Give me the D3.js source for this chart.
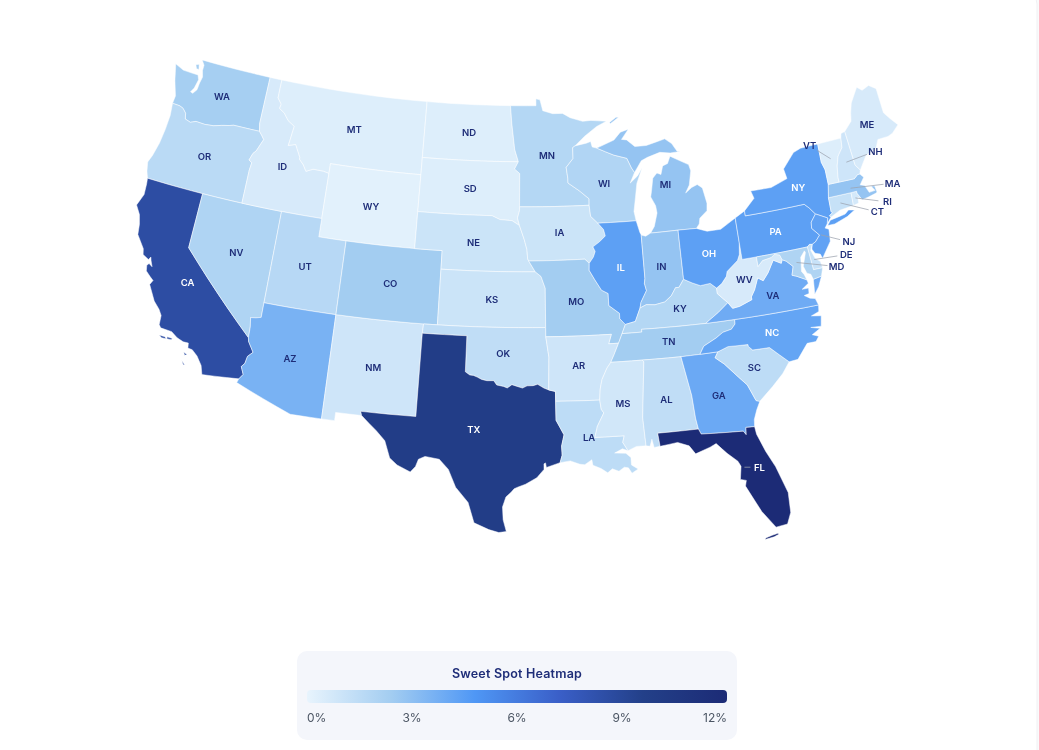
<!DOCTYPE html>
<html>
<head>
<meta charset="utf-8">
<script src="https://cdn.jsdelivr.net/npm/d3@7"></script>
<style>
  html, body { margin: 0; padding: 0; background: #fafafb; overflow: hidden; }
  text { font-family: Inter, "Noto Sans", sans-serif; }
  svg { will-change: opacity; }
</style>
</head>
<body>
<script>
// share of sweet spot per state
var stateCodes  = ['WA','OR','CA','NV','ID','MT','WY','UT','AZ','NM','CO','ND','SD','NE','KS','OK','TX','MN','IA','MO','AR','LA','WI','IL','MI','IN','KY','TN','MS','AL','GA','FL','SC','NC','VA','WV','OH','PA','NY','NJ','DE','MD','CT','RI','MA','VT','NH','ME'];
var stateShares = [2.3,1.6,8.6,2.0,0.6,0.4,0.2,1.7,3.6,0.9,2.4,0.4,0.4,1.0,1.0,1.4,9.9,1.8,1.0,2.4,0.9,1.5,1.9,4.4,2.8,2.8,1.8,2.4,0.8,1.4,4.0,12,1.5,4.2,3.9,0.6,4.4,4.4,4.4,4.3,1.1,2.0,1.2,0.7,2.8,0.4,0.9,0.6];

var legendTitle = 'Sweet Spot Heatmap';
var legendTicks = [0,3,6,9,12];
var colorStops  = [0,2.4,4.8,7.2,9.6,12];
var colorRange  = ['#e8f4fd','#a3cdf1','#4f97f5','#3a5fc8','#234089','#1c2b76'];

// states whose label sits off to the side, with a leader line
var calloutCodes = ['VT','NH','MA','RI','CT','NJ','DE','MD','FL'];
var calloutDx    = [-21,29,42,32,37,28,32,40,15];
var calloutDy    = [-13,-11,-5,4,9,7,-5,4,0];

///////////////////////////////////////////////////////////////////////////////
/////////////////////////      state boundaries      //////////////////////////
///////////////////////////////////////////////////////////////////////////////

var borders = {
  WA_coast: [[-124.05,46.27],[-124.0,46.7],[-124.15,47.0],[-124.4,47.5],[-124.73,48.38],[-124.0,48.17],[-123.2,48.15],[-122.75,48.15],[-122.6,47.9],[-122.75,47.4],[-122.95,47.15],[-122.75,47.1],[-122.5,47.35],[-122.45,47.75],[-122.35,48.1],[-122.5,48.45],[-122.5,48.75],[-122.76,49]],
  WA_CAN: [[-122.76,49],[-117.03,49]],
  WA_ID: [[-116.92,46],[-117.04,46.42],[-117.03,49]],
  WA_OR: [[-116.92,46],[-118.98,46],[-119.3,45.93],[-119.9,45.83],[-120.5,45.7],[-121.2,45.65],[-121.9,45.68],[-122.3,45.55],[-122.75,45.65],[-122.85,45.95],[-123.15,46.17],[-123.45,46.25],[-124.05,46.27]],
  OR_coast: [[-124.05,46.27],[-123.95,45.6],[-124.0,44.8],[-124.12,44.0],[-124.35,43.25],[-124.55,42.84],[-124.4,42.35],[-124.21,42]],
  OR_CA: [[-120,42],[-124.21,42]],
  OR_NV: [[-120,42],[-117.03,42]],
  OR_ID: [[-117.03,42],[-117.03,43.83],[-116.97,44.24],[-117.22,44.36],[-117.04,44.75],[-116.84,44.92],[-116.46,45.61],[-116.67,45.8],[-116.92,46]],
  CA_coast: [[-124.21,42],[-124.15,41.7],[-124.1,41.1],[-124.4,40.45],[-124.0,40.0],[-123.8,39.5],[-123.7,38.95],[-123.05,38.3],[-122.95,38.0],[-122.5,37.82],[-122.38,37.98],[-122.3,37.8],[-122.12,37.5],[-122.38,37.62],[-122.5,37.5],[-122.42,37.2],[-122.05,36.95],[-121.8,36.8],[-121.95,36.55],[-121.35,35.75],[-120.9,35.4],[-120.65,35.1],[-120.62,34.6],[-120.47,34.45],[-119.7,34.4],[-119.25,34.15],[-118.8,34.02],[-118.45,34.02],[-118.4,33.75],[-118.1,33.72],[-117.7,33.45],[-117.3,33.0],[-117.12,32.53]],
  CA_MEX: [[-117.12,32.53],[-114.72,32.72]],
  CA_AZ: [[-114.63,35],[-114.57,34.8],[-114.14,34.27],[-114.45,34.0],[-114.53,33.6],[-114.72,33.4],[-114.5,33.0],[-114.72,32.72]],
  CA_NV: [[-114.63,35],[-120,39],[-120,42]],
  NV_AZ: [[-114.05,37],[-114.05,36.2],[-114.4,36.12],[-114.75,36.08],[-114.65,35.6],[-114.63,35]],
  NV_UT: [[-114.05,42],[-114.05,37]],
  NV_ID: [[-117.03,42],[-114.05,42]],
  ID_UT: [[-114.05,42],[-111.05,42]],
  ID_WY: [[-111.05,44.47],[-111.05,42]],
  ID_MT: [[-116.05,49],[-116.05,48],[-115.7,47.7],[-115.75,47.45],[-115.3,47.25],[-114.9,46.9],[-114.33,46.65],[-114.5,45.57],[-113.95,45.7],[-113.45,45.05],[-113.45,44.95],[-113.1,44.7],[-112.8,44.37],[-112.3,44.55],[-111.5,44.54],[-111.05,44.47]],
  ID_CAN: [[-117.03,49],[-116.05,49]],
  MT_CAN: [[-116.05,49],[-104.05,49]],
  MT_WY: [[-104.05,45],[-111.05,45],[-111.05,44.47]],
  MT_ND: [[-104.05,49],[-104.05,45.94]],
  MT_SD: [[-104.05,45.94],[-104.05,45]],
  WY_SD: [[-104.05,43],[-104.05,45]],
  WY_NE: [[-104.05,41],[-104.05,43]],
  WY_CO: [[-104.05,41],[-109.05,41]],
  WY_UT: [[-111.05,42],[-111.05,41],[-109.05,41]],
  UT_CO: [[-109.05,41],[-109.05,37]],
  UT_AZ: [[-109.05,37],[-114.05,37]],
  CO_NM: [[-109.05,37],[-103,37]],
  AZ_NM: [[-109.05,31.33],[-109.05,37]],
  AZ_MEX: [[-114.72,32.72],[-114.81,32.5],[-111.07,31.33],[-109.05,31.33]],
  NM_MEX: [[-106.53,31.78],[-108.21,31.78],[-108.21,31.33],[-109.05,31.33]],
  NM_TX: [[-106.53,31.78],[-106.62,32],[-103.06,32],[-103.04,36.5]],
  NM_OK: [[-103.04,36.5],[-103,37]],
  CO_OK: [[-103,37],[-102.05,37]],
  CO_KS: [[-102.05,37],[-102.05,40]],
  CO_NE: [[-102.05,40],[-102.05,41],[-104.05,41]],
  KS_OK: [[-102.05,37],[-94.62,37]],
  KS_NE: [[-102.05,40],[-95.31,40]],
  KS_MO: [[-95.31,40],[-94.9,39.75],[-94.61,39.11],[-94.62,37]],
  OK_TX: [[-103.04,36.5],[-100,36.5],[-100,34.56],[-99.7,34.4],[-99.45,34.38],[-99.2,34.3],[-98.9,34.18],[-98.55,34.12],[-98.1,34.13],[-97.9,33.9],[-97.45,33.83],[-97.2,33.75],[-96.9,33.93],[-96.6,33.85],[-96.2,33.75],[-95.9,33.87],[-95.5,33.88],[-95.2,33.95],[-94.8,33.75],[-94.48,33.64]],
  OK_AR: [[-94.62,36.5],[-94.43,35.4],[-94.48,33.64]],
  OK_MO: [[-94.62,37],[-94.62,36.5]],
  TX_AR: [[-94.48,33.64],[-94.04,33.55],[-94.04,33.02]],
  TX_LA: [[-94.04,33.02],[-94.04,32],[-93.55,31.2],[-93.72,30.6],[-93.7,30.1],[-93.84,29.7]],
  TX_coast: [[-93.84,29.7],[-94.7,29.45],[-94.75,29.7],[-94.85,29.65],[-94.85,29.35],[-95.3,28.9],[-96.0,28.55],[-96.45,28.4],[-96.7,28.3],[-96.9,28.1],[-97.2,27.85],[-97.4,27.3],[-97.35,26.6],[-97.15,25.96]],
  TX_MEX: [[-97.15,25.96],[-97.6,25.9],[-98.2,26.05],[-99.1,26.4],[-99.5,27.5],[-100.3,28.3],[-100.8,29.25],[-101.4,29.77],[-102.3,29.88],[-102.7,29.7],[-102.85,29.3],[-103.15,28.98],[-104.0,29.3],[-104.5,29.65],[-104.9,30.55],[-105.5,31.05],[-106.0,31.4],[-106.53,31.78]],
  LA_AR: [[-91.17,33],[-94.04,33.02]],
  LA_MS: [[-91.17,33],[-91.1,32.5],[-90.95,32.3],[-91.4,31.6],[-91.6,31],[-89.73,31],[-89.85,30.65],[-89.55,30.18]],
  LA_coast: [[-93.84,29.7],[-93.2,29.78],[-92.6,29.58],[-92.3,29.55],[-91.85,29.8],[-91.8,29.5],[-91.3,29.3],[-90.9,29.05],[-90.6,29.25],[-90.2,29.1],[-89.85,29.3],[-89.6,29.25],[-89.4,28.95],[-89.0,29.15],[-89.4,29.4],[-89.4,29.8],[-89.7,30.05],[-90.4,30.1],[-89.9,30.3],[-89.55,30.18]],
  AR_MS: [[-90.3,35],[-90.58,34.7],[-90.95,34.1],[-91.1,33.6],[-91.17,33]],
  AR_TN: [[-90.3,35],[-90.05,35.4],[-89.7,36]],
  AR_MO: [[-89.7,36],[-90.37,36],[-90.15,36.5],[-94.62,36.5]],
  MO_TN: [[-89.7,36],[-89.42,36.5]],
  MO_KY: [[-89.15,36.98],[-89.42,36.5]],
  MO_IL: [[-89.15,36.98],[-89.5,37.3],[-89.5,37.6],[-90.2,38.05],[-90.2,38.7],[-90.65,38.9],[-91.1,39.5],[-91.45,40],[-91.42,40.38]],
  MO_IA: [[-91.42,40.38],[-91.73,40.61],[-95.77,40.58]],
  MO_NE: [[-95.77,40.58],[-95.31,40]],
  IA_IL: [[-90.64,42.51],[-90.25,42.15],[-90.15,41.8],[-90.6,41.5],[-91.1,41.25],[-90.95,41],[-91.1,40.7],[-91.42,40.38]],
  IA_WI: [[-91.22,43.5],[-91.15,42.9],[-90.64,42.51]],
  IA_MN: [[-96.45,43.5],[-91.22,43.5]],
  IA_SD: [[-96.45,42.49],[-96.6,42.9],[-96.45,43.3],[-96.45,43.5]],
  IA_NE: [[-96.45,42.49],[-96.1,41.75],[-95.9,41.2],[-95.85,40.7],[-95.77,40.58]],
  NE_SD: [[-104.05,43],[-98.5,43],[-97.9,42.8],[-97,42.75],[-96.45,42.49]],
  ND_SD: [[-96.56,45.94],[-104.05,45.94]],
  ND_MN: [[-97.23,49],[-97.1,48],[-96.85,46.6],[-96.56,45.94]],
  ND_CAN: [[-104.05,49],[-97.23,49]],
  SD_MN: [[-96.45,43.5],[-96.45,45.3],[-96.85,45.55],[-96.56,45.94]],
  MN_CAN: [[-92.1,46.75],[-91.3,47.25],[-90.3,47.75],[-89.5,48],[-90.75,48.1],[-91.4,48.07],[-92.4,48.3],[-93,48.55],[-93.8,48.55],[-94.6,48.72],[-94.82,49.32],[-95.15,49.38],[-95.15,49],[-97.23,49]],
  MN_WI: [[-91.22,43.5],[-91.2,43.85],[-91.9,44.3],[-92.75,44.75],[-92.75,45],[-92.85,45.6],[-92.29,46.07],[-92.29,46.66],[-92.1,46.75]],
  WI_north: [[-92.1,46.75],[-91.2,46.87],[-90.85,46.95],[-90.75,46.65],[-90.4,46.57]],
  WI_MI: [[-90.4,46.57],[-89.1,46.13],[-88.1,45.9],[-87.8,45.35],[-87.6,45.1]],
  WI_coast: [[-87.6,45.1],[-88,44.55],[-87.4,44.9],[-87,45.3],[-87.5,44.5],[-87.7,43.75],[-87.9,43],[-87.8,42.49]],
  WI_IL: [[-87.8,42.49],[-90.64,42.51]],
  IL_lake: [[-87.52,41.7],[-87.6,41.85],[-87.8,42.49]],
  IL_IN: [[-88.05,37.8],[-87.95,38.1],[-87.5,38.7],[-87.6,39.1],[-87.53,39.35],[-87.52,41.7]],
  IL_KY: [[-88.05,37.8],[-88.45,37.1],[-89.15,36.98]],
  IN_lake: [[-87.52,41.7],[-87.2,41.62],[-86.82,41.76]],
  IN_MI: [[-86.82,41.76],[-84.8,41.76]],
  IN_OH: [[-84.82,39.1],[-84.8,41.76]],
  IN_KY: [[-84.82,39.1],[-85.2,38.7],[-85.45,38.7],[-85.8,38.3],[-86.3,38],[-87,37.9],[-87.6,37.95],[-88.05,37.8]],
  MI_OH: [[-84.8,41.76],[-83.45,41.73]],
  MI_lower: [[-86.82,41.76],[-86.5,42.1],[-86.2,42.8],[-86.25,43.2],[-86.55,43.7],[-86.45,44],[-86.25,44.7],[-85.9,44.95],[-85.6,44.85],[-85.4,45.3],[-85,45.4],[-84.75,45.78],[-84.1,45.5],[-83.4,45.2],[-83.3,44.85],[-83.55,44.1],[-83.9,43.7],[-83.4,43.95],[-82.95,44.07],[-82.6,43.85],[-82.42,43],[-82.5,42.6],[-83.1,42.25],[-83.2,41.95],[-83.45,41.73]],
  MI_upper: [[-90.4,46.57],[-89,46.95],[-88.45,47.35],[-87.8,47.47],[-88.4,46.95],[-88,46.9],[-87.4,46.5],[-86.5,46.5],[-85,46.75],[-84.5,46.45],[-84.15,46],[-83.9,45.97],[-84.7,45.95],[-85.5,46.05],[-86.5,45.85],[-87,45.7],[-87.6,45.1]],
  OH_lake: [[-83.45,41.73],[-82.7,41.5],[-81.7,41.5],[-80.52,41.98]],
  OH_PA: [[-80.52,41.98],[-80.52,40.64]],
  OH_WV: [[-80.52,40.64],[-80.65,40],[-80.85,39.7],[-81.7,39.2],[-81.8,38.95],[-82.2,38.6],[-82.6,38.4]],
  OH_KY: [[-82.6,38.4],[-83,38.7],[-83.7,38.65],[-84.25,38.85],[-84.82,39.1]],
  KY_WV: [[-82.6,38.4],[-82.6,38.1],[-81.97,37.54]],
  KY_VA: [[-83.68,36.6],[-82.7,37.1],[-81.97,37.54]],
  KY_TN: [[-89.42,36.5],[-88.07,36.5],[-88.07,36.65],[-83.68,36.6]],
  TN_VA: [[-81.68,36.59],[-83.68,36.6]],
  TN_NC: [[-81.68,36.59],[-81.7,36.35],[-82,36.1],[-82.6,36],[-83.1,35.75],[-84,35.4],[-84.32,34.99]],
  TN_GA: [[-84.32,34.99],[-85.6,34.98]],
  TN_AL: [[-85.6,34.98],[-88.2,35]],
  TN_MS: [[-88.2,35],[-90.3,35]],
  MS_AL: [[-88.2,35],[-88.1,34.9],[-88.47,31.9],[-88.4,30.37]],
  MS_coast: [[-89.55,30.18],[-89,30.38],[-88.4,30.37]],
  AL_coast: [[-88.4,30.37],[-88.15,30.33],[-88,30.7],[-87.9,30.25],[-87.52,30.28]],
  AL_FL: [[-87.52,30.28],[-87.6,31],[-85,31]],
  AL_GA: [[-85.6,34.98],[-85.18,32.85],[-85.1,31.6],[-85,31]],
  GA_FL: [[-85,31],[-84.86,30.71],[-82.2,30.57],[-82.05,30.36],[-82,30.75],[-81.45,30.72]],
  FL_coast: [[-87.52,30.28],[-86.4,30.4],[-85.7,30.15],[-85.35,29.68],[-84.4,29.95],[-84,30.1],[-83.4,29.5],[-82.8,29],[-82.65,28.7],[-82.8,28],[-82.45,27.9],[-82.55,27.6],[-82.1,26.7],[-81.8,26.1],[-81.1,25.13],[-80.4,25.2],[-80.1,25.8],[-80.05,26.9],[-80.55,28.4],[-81,29.3],[-81.4,30.3],[-81.45,30.72]],
  GA_SC: [[-80.87,32.03],[-81.1,32.1],[-81.5,33],[-82,33.5],[-82.8,34.3],[-83.35,34.7],[-83.11,35]],
  GA_NC: [[-83.11,35],[-84.32,34.99]],
  GA_coast: [[-81.45,30.72],[-81.4,31.1],[-81.15,31.6],[-80.87,32.03]],
  SC_NC: [[-78.55,33.86],[-79.67,34.8],[-80.8,34.82],[-81.05,35.05],[-81.05,35.15],[-82.4,35.2],[-83.11,35]],
  SC_coast: [[-78.55,33.86],[-79.1,33.3],[-79.9,32.7],[-80.87,32.03]],
  NC_coast: [[-75.87,36.55],[-75.95,36.2],[-76.5,36.05],[-75.85,35.95],[-76,35.4],[-76.7,35.45],[-76.1,35.3],[-76.7,35.05],[-76.3,34.9],[-76.55,34.65],[-77.15,34.65],[-77.95,33.9],[-78.55,33.86]],
  NC_VA: [[-75.87,36.55],[-81.68,36.59]],
  VA_WV: [[-81.97,37.54],[-81.7,37.2],[-81.2,37.25],[-80.3,37.5],[-80.3,37.65],[-80,38],[-79.65,38.6],[-79.3,38.4],[-78.87,38.77],[-78.35,39.39],[-77.83,39.14],[-77.72,39.32]],
  VA_MD: [[-76.3,38],[-76.95,38.3],[-77.25,38.4],[-77.05,38.85],[-77.45,39.2],[-77.72,39.32]],
  VA_bay: [[-76.3,38],[-76.25,37.8],[-76.75,37.55],[-76.3,37.55],[-76.35,37.25],[-76.7,37.2],[-76.35,37],[-76,36.92],[-75.87,36.55]],
  VA_shore: [[-75.85,37.95],[-75.97,37.15],[-75.6,37.5],[-75.25,38.03]],
  MD_VAshore: [[-75.85,37.95],[-75.25,38.03]],
  MD_PA: [[-79.48,39.72],[-75.79,39.72]],
  MD_WV: [[-77.72,39.32],[-77.83,39.6],[-78.2,39.68],[-78.45,39.55],[-79.1,39.47],[-79.48,39.2],[-79.48,39.72]],
  MD_bay: [[-75.85,37.95],[-75.95,38.25],[-76.2,38.35],[-76.35,38.75],[-76.2,39.05],[-76,39.45],[-76.05,39.55],[-76.4,39.25],[-76.45,38.95],[-76.55,38.5],[-76.4,38.3],[-76.3,38]],
  MD_coast: [[-75.05,38.45],[-75.25,38.03]],
  MD_DE: [[-75.05,38.45],[-75.7,38.46],[-75.79,39.72]],
  DE_PA: [[-75.79,39.72],[-75.6,39.83],[-75.41,39.8]],
  DE_coast: [[-75.41,39.8],[-75.6,39.5],[-75.42,39.05],[-75.1,38.8],[-75.05,38.45]],
  PA_WV: [[-80.52,40.64],[-80.52,39.72],[-79.48,39.72]],
  PA_lake: [[-80.52,41.98],[-79.76,42.27]],
  PA_NY: [[-74.7,41.36],[-75.05,41.75],[-75.35,42],[-79.76,42],[-79.76,42.27]],
  PA_NJ: [[-75.41,39.8],[-75.13,39.9],[-74.75,40.2],[-75.2,40.65],[-75.13,40.98],[-74.7,41.36]],
  NJ_NY: [[-74.7,41.36],[-73.9,41],[-74.03,40.7]],
  NJ_coast: [[-74.03,40.7],[-74.25,40.5],[-74,40.4],[-74.1,39.75],[-74.9,38.95],[-75,39.2],[-75.35,39.3],[-75.5,39.55],[-75.41,39.8]],
  NY_north: [[-79.76,42.27],[-78.9,42.85],[-79.05,43.27],[-77.5,43.25],[-76.2,43.55],[-76.3,44.1],[-75.3,44.85],[-74.7,45],[-73.34,45.01]],
  NY_VT: [[-73.34,45.01],[-73.4,44],[-73.25,43.55],[-73.28,42.75]],
  NY_MA: [[-73.28,42.75],[-73.5,42.05]],
  NY_CT: [[-73.5,42.05],[-73.55,41.3],[-73.48,41.21],[-73.73,41.1],[-73.66,41]],
  NY_sea: [[-73.66,41],[-73.9,40.8],[-74.03,40.7]],
  VT_CAN: [[-73.34,45.01],[-71.5,45.01]],
  VT_NH: [[-71.5,45.01],[-71.6,44.5],[-72.05,44.1],[-72.3,43.6],[-72.45,43],[-72.46,42.73]],
  VT_MA: [[-72.46,42.73],[-73.28,42.75]],
  NH_CAN: [[-71.5,45.01],[-71.4,45.25],[-71.08,45.3]],
  NH_ME: [[-71.08,45.3],[-70.98,43.4],[-70.7,43.07]],
  NH_coast: [[-70.7,43.07],[-70.82,42.87]],
  NH_MA: [[-70.82,42.87],[-71,42.87],[-71.3,42.7],[-72.46,42.73]],
  ME_outer: [[-71.08,45.3],[-70.4,45.75],[-70.25,46.2],[-70,46.7],[-69.25,47.45],[-68.9,47.2],[-68.3,47.36],[-67.8,47.07],[-67.8,45.7],[-67.45,45.3],[-67,44.85],[-67.6,44.5],[-68,44.4],[-68.8,44.4],[-69.1,44],[-70,43.75],[-70.7,43.07]],
  MA_CT: [[-73.5,42.05],[-71.8,42.02]],
  MA_RI: [[-71.8,42.02],[-71.38,42.02],[-71.38,41.9],[-71.2,41.6],[-71.13,41.5]],
  MA_coast: [[-71.13,41.5],[-70.65,41.55],[-70,41.65],[-69.95,41.7],[-70,42.05],[-70.25,42.07],[-70.05,41.8],[-70.5,41.78],[-70.7,42.2],[-71,42.3],[-70.6,42.65],[-70.82,42.87]],
  RI_CT: [[-71.8,42.02],[-71.86,41.32]],
  RI_coast: [[-71.86,41.32],[-71.45,41.37],[-71.4,41.7],[-71.3,41.6],[-71.13,41.5]],
  CT_coast: [[-71.86,41.32],[-72.9,41.25],[-73.66,41]]
};

// which border pieces close each state's rings (extra rings are detached parts)
var stateRings = {
  WA: [['WA_coast','WA_CAN','WA_ID','WA_OR']],
  OR: [['WA_OR','OR_coast','OR_CA','OR_NV','OR_ID']],
  CA: [['CA_coast','CA_MEX','CA_AZ','CA_NV','OR_CA']],
  NV: [['CA_NV','OR_NV','NV_ID','NV_UT','NV_AZ']],
  ID: [['OR_ID','WA_ID','ID_CAN','ID_MT','ID_WY','ID_UT','NV_ID']],
  MT: [['MT_CAN','MT_ND','MT_SD','MT_WY','ID_MT']],
  WY: [['MT_WY','ID_WY','WY_UT','WY_CO','WY_NE','WY_SD']],
  UT: [['NV_UT','ID_UT','WY_UT','UT_CO','UT_AZ']],
  AZ: [['AZ_NM','UT_AZ','NV_AZ','CA_AZ','AZ_MEX']],
  NM: [['CO_NM','NM_OK','NM_TX','NM_MEX','AZ_NM']],
  CO: [['CO_NM','CO_OK','CO_KS','CO_NE','WY_CO','UT_CO']],
  ND: [['ND_CAN','ND_MN','ND_SD','MT_ND']],
  SD: [['ND_SD','MT_SD','WY_SD','NE_SD','IA_SD','SD_MN']],
  NE: [['KS_NE','CO_NE','WY_NE','NE_SD','IA_NE','MO_NE']],
  KS: [['KS_OK','CO_KS','KS_NE','KS_MO']],
  OK: [['NM_OK','CO_OK','KS_OK','OK_MO','OK_AR','OK_TX']],
  TX: [['NM_TX','OK_TX','TX_AR','TX_LA','TX_coast','TX_MEX']],
  MN: [['ND_MN','SD_MN','IA_MN','MN_WI','MN_CAN']],
  IA: [['IA_MN','IA_WI','IA_IL','MO_IA','IA_NE','IA_SD']],
  MO: [['KS_MO','OK_MO','AR_MO','MO_TN','MO_KY','MO_IL','MO_IA','MO_NE']],
  AR: [['LA_AR','AR_MS','AR_TN','AR_MO','OK_AR','TX_AR']],
  LA: [['TX_LA','LA_coast','LA_MS','LA_AR']],
  WI: [['MN_WI','WI_north','WI_MI','WI_coast','WI_IL','IA_WI']],
  IL: [['WI_IL','IA_IL','MO_IL','IL_KY','IL_IN','IL_lake']],
  MI: [['MI_lower','IN_MI','MI_OH'],['WI_MI','MI_upper']],
  IN: [['IL_IN','IN_lake','IN_MI','IN_OH','IN_KY']],
  KY: [['OH_KY','IN_KY','IL_KY','MO_KY','KY_TN','KY_VA','KY_WV']],
  TN: [['KY_TN','TN_VA','TN_NC','TN_GA','TN_AL','TN_MS','AR_TN','MO_TN']],
  MS: [['TN_MS','AR_MS','LA_MS','MS_coast','MS_AL']],
  AL: [['TN_AL','MS_AL','AL_coast','AL_FL','AL_GA']],
  GA: [['GA_NC','TN_GA','AL_GA','GA_FL','GA_coast','GA_SC']],
  FL: [['GA_FL','FL_coast','AL_FL']],
  SC: [['SC_NC','SC_coast','GA_SC']],
  NC: [['NC_VA','NC_coast','SC_NC','GA_NC','TN_NC']],
  VA: [['VA_MD','VA_bay','NC_VA','TN_VA','KY_VA','VA_WV'],['MD_VAshore','VA_shore']],
  WV: [['OH_WV','PA_WV','MD_WV','VA_WV','KY_WV']],
  OH: [['OH_lake','OH_PA','OH_WV','OH_KY','IN_OH','MI_OH']],
  PA: [['PA_WV','MD_PA','DE_PA','PA_NJ','PA_NY','PA_lake','OH_PA']],
  NY: [['NY_north','NY_VT','NY_MA','NY_CT','NY_sea','NJ_NY','PA_NY']],
  NJ: [['PA_NJ','NJ_NY','NJ_coast']],
  DE: [['DE_PA','DE_coast','MD_DE']],
  MD: [['MD_PA','MD_DE','MD_coast','MD_VAshore','MD_bay','VA_MD','MD_WV']],
  CT: [['MA_CT','RI_CT','CT_coast','NY_CT']],
  RI: [['MA_RI','RI_CT','RI_coast']],
  MA: [['VT_MA','NY_MA','MA_CT','MA_RI','MA_coast','NH_MA']],
  VT: [['NY_VT','VT_CAN','VT_NH','VT_MA']],
  NH: [['VT_NH','NH_CAN','NH_ME','NH_coast','NH_MA']],
  ME: [['NH_ME','ME_outer']]
};

var islands = {
  CA: [[[-120.45,34.05],[-120.05,34.05],[-119.95,33.95],[-120.25,33.95]],[[-119.9,34.07],[-119.55,34.05],[-119.6,33.97],[-119.9,33.97]],[[-118.6,33.48],[-118.35,33.4],[-118.5,33.33]],[[-118.6,33.03],[-118.35,32.83],[-118.45,32.82]]],
  WA: [[[-123.15,48.65],[-122.9,48.72],[-122.8,48.45],[-123.0,48.45]]],
  MI: [[[-89.2,47.85],[-88.5,48.17],[-88.7,48.18],[-89.25,47.92]]],
  NY: [[[-74.03,40.6],[-73.75,40.85],[-72.6,40.98],[-72.3,41.15],[-71.87,41.07],[-72.5,40.82],[-73.5,40.6]]],
  FL: [[[-81.85,24.55],[-81.3,24.62],[-81.0,24.72],[-81.05,24.78],[-81.4,24.72],[-81.8,24.63]]]
};

///////////////////////////////////////////////////////////////////////////////
///////////////////////////      Visualization      ///////////////////////////
///////////////////////////////////////////////////////////////////////////////

var svg = d3.select('body').append('svg')
            .attr('width',1039)
            .attr('height',750)
            .style('display','block');

// white page card, only its right edge shows
svg.append('rect')
   .attr('x',-20).attr('y',-8)
   .attr('width',1057).attr('height',790)
   .attr('rx',12)
   .attr('fill','#fff')
   .attr('stroke','#f0f0f3');

var color = d3.scaleLinear().domain(colorStops).range(colorRange);

var projection = d3.geoAlbers().scale(1056).translate([517,296]);
var path = d3.geoPath(projection);

function samePoint(a, b){
  return a[0] === b[0] && a[1] === b[1];
}

// walks the named pieces end to end, flipping any that run the other way
function chainRing(names){
  var left = names.map(function(n){
    if(!borders[n]) throw new Error('no border '+n);
    return borders[n];
  });
  var ring = left.shift().slice();
  while(left.length){
    var end = ring[ring.length-1];
    var hit = left.findIndex(function(a){
      return samePoint(a[0],end) || samePoint(a[a.length-1],end);
    });
    if(hit < 0) throw new Error('ring does not close: '+names.join(' '));
    var piece = left.splice(hit,1)[0];
    if(!samePoint(piece[0],end)) piece = piece.slice().reverse();
    ring = ring.concat(piece.slice(1));
  }
  if(!samePoint(ring[0],ring[ring.length-1])) throw new Error('open ring: '+names.join(' '));
  return ring;
}

// straight lon/lat segments stay straight on the map (parallels must curve)
function densify(ring){
  var out = [];
  ring.forEach(function(p, i){
    if(i > 0){
      var q = ring[i-1];
      var n = Math.ceil(Math.abs(p[0]-q[0]));
      for(var k = 1; k < n; k++){
        out.push([q[0]+(p[0]-q[0])*k/n, q[1]+(p[1]-q[1])*k/n]);
      }
    }
    out.push(p);
  });
  return out;
}

function toPolygon(ring){
  var closed = samePoint(ring[0],ring[ring.length-1]) ? ring : ring.concat([ring[0]]);
  var poly = { type: 'Polygon', coordinates: [densify(closed)] };
  if(d3.geoArea(poly) > 2*Math.PI) poly.coordinates[0].reverse();
  return poly.coordinates;
}

var states = stateCodes.map(function(code, i){
  var polys = stateRings[code].map(function(names){ return toPolygon(chainRing(names)); });
  return {
    type: 'Feature',
    code: code,
    share: stateShares[i],
    geometry: { type: 'MultiPolygon', coordinates: polys.concat((islands[code] || []).map(toPolygon)) }
  };
});

svg.append('g').selectAll('path')
   .data(states)
   .enter().append('path')
   .attr('d',function(d){ return path(d); })
   .attr('fill',function(d){ return color(d.share); })
   .attr('stroke','#fff')
   .attr('stroke-width',0.5)
   .attr('stroke-linejoin','round');

// labels and leader lines
var labels = states.map(function(d){
  var c = path.centroid(d);
  var k = calloutCodes.indexOf(d.code);
  return {
    code: d.code,
    share: d.share,
    anchor: c,
    x: c[0] + (k < 0 ? 0 : calloutDx[k]),
    y: c[1] + (k < 0 ? 0 : calloutDy[k]),
    callout: k >= 0
  };
});

svg.append('g').selectAll('line')
   .data(labels.filter(function(d){ return d.callout; }))
   .enter().append('line')
   .attr('x1',function(d){ return d.anchor[0]; })
   .attr('y1',function(d){ return d.anchor[1]; })
   .attr('x2',function(d){ return d.x - (d.x-d.anchor[0])*9/Math.hypot(d.x-d.anchor[0],d.y-d.anchor[1]); })
   .attr('y2',function(d){ return d.y - (d.y-d.anchor[1])*9/Math.hypot(d.x-d.anchor[0],d.y-d.anchor[1]); })
   .attr('stroke','#9ca3af')
   .attr('stroke-width',0.75);

svg.append('g').selectAll('text')
   .data(labels)
   .enter().append('text')
   .attr('x',function(d){ return d.x; })
   .attr('y',function(d){ return d.y; })
   .attr('dy','0.35em')
   .attr('text-anchor','middle')
   .attr('font-size',9.5)
   .attr('font-weight',600)
   .attr('fill',function(d){ return d.share >= 4.1 && d.code !== 'NJ' ? '#fff' : '#1e2d78'; })
   .text(function(d){ return d.code; });

// legend
var legend = svg.append('g');

legend.append('rect')
      .attr('x',297).attr('y',651)
      .attr('width',440).attr('height',89)
      .attr('rx',10)
      .attr('fill','#f4f6fb');

legend.append('text')
      .attr('x',517).attr('y',678)
      .attr('text-anchor','middle')
      .attr('font-size',12.5)
      .attr('font-weight',600)
      .attr('letter-spacing',0.2)
      .attr('fill','#1e2d78')
      .text(legendTitle);

var legendScale = d3.scaleLinear().domain([0,12]).range([307,727]);

var gradient = svg.append('defs').append('linearGradient')
                  .attr('id','legend-gradient');

gradient.selectAll('stop')
        .data(colorStops)
        .enter().append('stop')
        .attr('offset',function(d){ return (d/12*100)+'%'; })
        .attr('stop-color',function(d){ return color(d); });

legend.append('rect')
      .attr('x',legendScale(0)).attr('y',690)
      .attr('width',legendScale(12)-legendScale(0)).attr('height',13)
      .attr('rx',4)
      .attr('fill','url(#legend-gradient)');

legend.selectAll('.tick-label')
      .data(legendTicks)
      .enter().append('text')
      .attr('class','tick-label')
      .attr('x',function(d){ return legendScale(d); })
      .attr('y',722)
      .attr('text-anchor',function(d,i){ return i === 0 ? 'start' : i === legendTicks.length-1 ? 'end' : 'middle'; })
      .attr('font-size',12)
      .attr('fill','#4b5563')
      .text(function(d){ return d+'%'; });
</script>
</body>
</html>
